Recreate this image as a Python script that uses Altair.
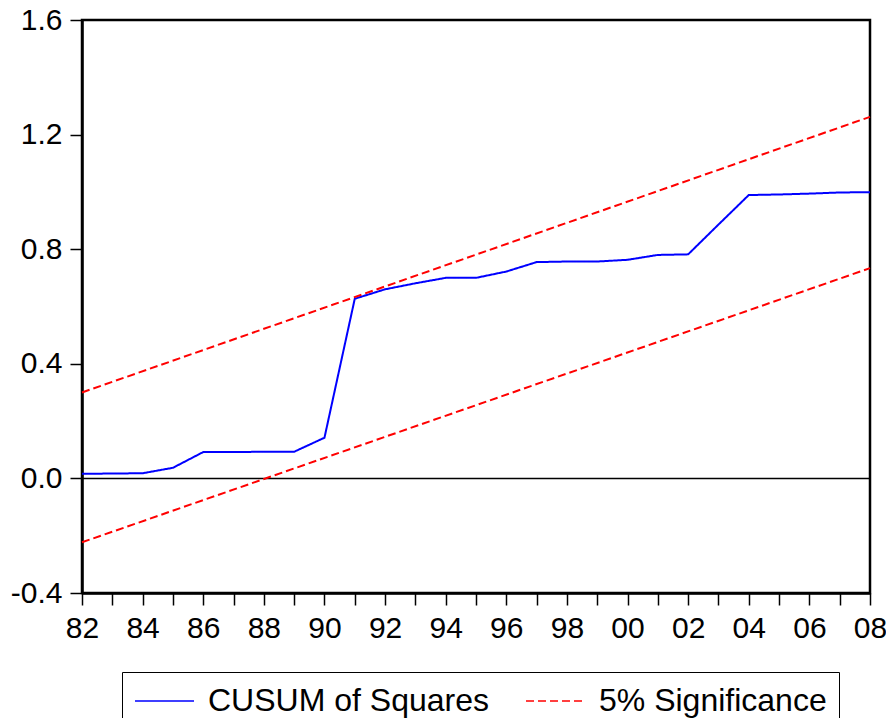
import altair as alt
import pandas as pd

years = list(range(1982, 2009))
cusum_sq = [0.016, 0.017, 0.018, 0.037, 0.092, 0.092, 0.093, 0.093, 0.142,
            0.627, 0.660, 0.681, 0.700, 0.700, 0.722, 0.755, 0.757, 0.757,
            0.763, 0.780, 0.782, 0.886, 0.989, 0.991, 0.994, 0.998, 0.999]

bound_years = [1982, 2008]
upper_bound = [0.300, 1.262]
lower_bound = [-0.223, 0.734]

S1 = "CUSUM of Squares"
S2 = "5% Significance"

rows = []
for y, v in zip(years, cusum_sq):
    rows.append({"series": S1, "group": "cusum", "year": y, "value": v})
for y, v in zip(bound_years, upper_bound):
    rows.append({"series": S2, "group": "upper", "year": y, "value": v})
for y, v in zip(bound_years, lower_bound):
    rows.append({"series": S2, "group": "lower", "year": y, "value": v})
df = pd.DataFrame(rows)

FONT = "Liberation Sans"

x_enc = alt.X(
    "year:Q",
    scale=alt.Scale(domain=[1982, 2008], nice=False, zero=False),
    axis=alt.Axis(
        values=years,
        labelExpr="datum.value % 2 == 0 ? substring(toString(datum.value), 2, 4) : ''",
        labelOverlap=False,
        labelFlush=False,
        title=None,
        grid=False,
        tickSize=12,
        labelPadding=8,
    ),
)
y_enc = alt.Y(
    "value:Q",
    scale=alt.Scale(domain=[-0.4, 1.6], nice=False, zero=False),
    axis=alt.Axis(
        values=[-0.4, 0.0, 0.4, 0.8, 1.2, 1.6],
        labelExpr="datum.value < 0 ? '-' + format(-datum.value, '.1f') : format(datum.value, '.1f')",
        title=None,
        grid=False,
        tickSize=12,
        labelPadding=8,
    ),
)


def make_legend():
    return alt.Legend(
        title=None,
        orient="none",
        legendX=40,
        legendY=652,
        direction="horizontal",
        strokeColor="black",
        padding=12,
        symbolType="stroke",
        symbolSize=3481,
        symbolStrokeWidth=1.5,
        clipHeight=34,
        labelFont=FONT,
        labelFontSize=32,
        labelColor="black",
        labelOffset=13,
        columnPadding=36,
        labelLimit=400,
    )


zero_rule = alt.Chart(pd.DataFrame({"z": [0.0]})).mark_rule(
    color="black", strokeWidth=1.5
).encode(y=alt.Y("z:Q", scale=alt.Scale(domain=[-0.4, 1.6], nice=False)))

lines = alt.Chart(df).mark_line(strokeWidth=2).encode(
    x=x_enc,
    y=y_enc,
    color=alt.Color(
        "series:N",
        scale=alt.Scale(domain=[S1, S2], range=["#0000FF", "#FF0000"]),
        legend=make_legend(),
    ),
    strokeDash=alt.StrokeDash(
        "series:N",
        scale=alt.Scale(domain=[S1, S2], range=[[1, 0], [8, 4]]),
        legend=make_legend(),
    ),
    detail="group:N",
)

chart = alt.layer(zero_rule, lines).properties(
    width=788,
    height=573,
    autosize=alt.AutoSizeParams(type="none"),
    padding={"left": 74, "top": 12, "right": 16, "bottom": 125},
    background="white",
).configure_view(
    stroke="black", strokeWidth=2.5
).configure_axis(
    domainColor="black",
    domainWidth=2.5,
    tickColor="black",
    tickWidth=1.5,
    labelFont=FONT,
    labelFontSize=30,
    labelColor="black",
)

chart.save("out.html", embed_options={"renderer": "svg", "actions": False})
